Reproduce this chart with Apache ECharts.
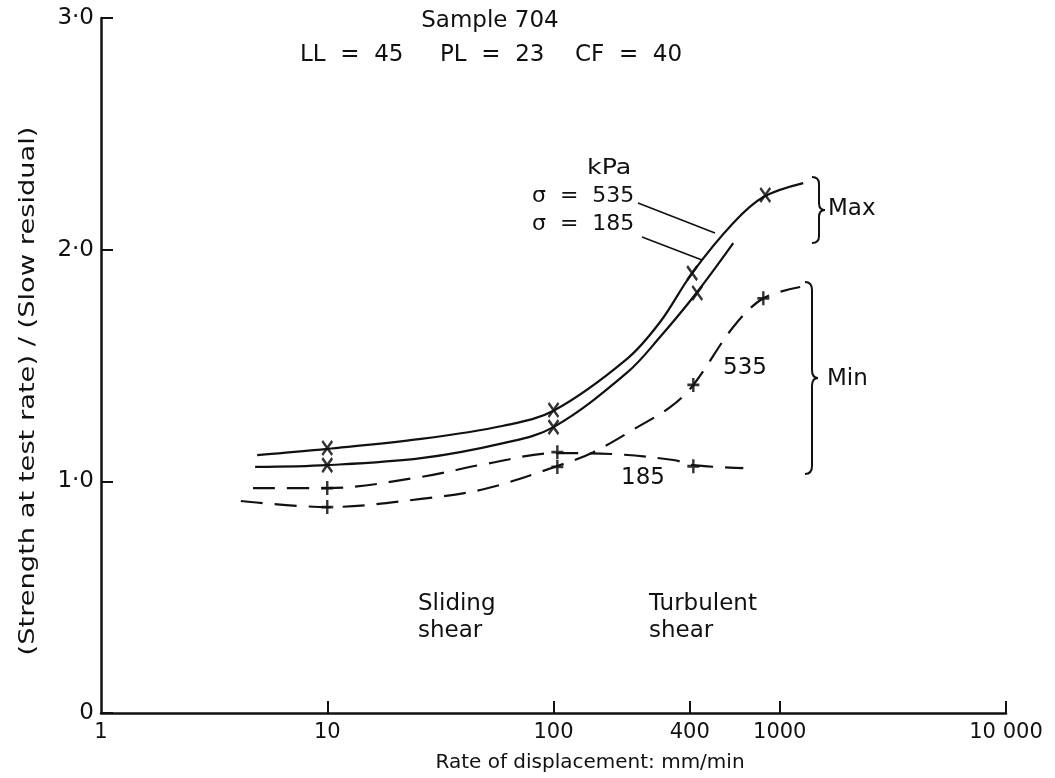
<!DOCTYPE html>
<html><head><meta charset="utf-8">
<script src="https://cdn.jsdelivr.net/npm/echarts@6/dist/echarts.min.js"></script>
<style>html,body{margin:0;padding:0;background:#fff}#c{width:1055px;height:778px}</style>
</head><body><div id="c"></div>
<script>
// Tick values and labels
const xTickValues = [1, 10, 100, 400, 1000, 10000];
const xTickLabels = ['1', '10', '100', '400', '1000', '10 000'];
const yTickValues = [0, 1, 2, 3];
const yTickLabels = ['0', '1·0', '2·0', '3·0'];

// Curves (rate mm/min, strength ratio)
const max535Curve = [[4.9,1.113],[10,1.14],[26,1.183],[60,1.24],[100,1.305],[212,1.53],[297,1.69],[410,1.899],[623,2.115],[846,2.227],[1270,2.287]];
const max185Curve = [[4.8,1.062],[10,1.07],[26,1.10],[60,1.165],[100,1.234],[212,1.47],[297,1.625],[430,1.815],[623,2.028]];
const min185Curve = [[4.7,0.971],[10,0.971],[26,1.019],[50,1.075],[104,1.122],[180,1.118],[339,1.092],[415,1.07],[690,1.057]];
const min535Curve = [[4.15,0.915],[10,0.889],[26,0.924],[50,0.968],[104,1.066],[150,1.126],[235,1.234],[329,1.321],[415,1.416],[623,1.666],[846,1.79],[1231,1.839]];

// Test points (markers)
const max535Points = [[10,1.144],[100,1.308],[410,1.899],[863,2.236]];
const max185Points = [[10,1.07],[100,1.234],[432,1.813]];
const min185Points = [[10,0.971],[104,1.126],[415,1.065]];
const min535Points = [[10,0.889],[104,1.062],[415,1.416],[846,1.79]];

const FONT = '"DejaVu Sans", "Liberation Sans", sans-serif';
const INK = '#111';
const X_SYM = 'path://M0,0L10,14M10,0L0,14';
const PLUS_SYM = 'path://M6,0L6,14M0,7L12,7';

function lineSeries(data, dashed) {
  return {
    type: 'line', data: data, smooth: 0.35,
    showSymbol: false, symbol: 'none', silent: true,
    lineStyle: { color: INK, width: 2.2, type: dashed ? [22, 12] : 'solid' }
  };
}
function markerSeries(data, sym, size) {
  return {
    type: 'scatter', data: data, symbol: sym, symbolSize: size, silent: true,
    itemStyle: { color: 'rgba(0,0,0,0)', borderColor: '#000', borderWidth: 2.6 }
  };
}
function txt(text, x, y, size, align, sx) {
  return { type: 'text', x: x, y: y, scaleX: sx || 1, silent: true,
    style: { text: text, fill: INK, font: size + 'px ' + FONT, textAlign: align || 'left', textVerticalAlign: 'middle' } };
}
function seg(x1, y1, x2, y2, w) {
  return { type: 'line', silent: true, shape: { x1: x1, y1: y1, x2: x2, y2: y2 }, style: { stroke: INK, lineWidth: w || 2 } };
}
function qcurve(x1, y1, cx, cy, x2, y2) {
  return { type: 'bezierCurve', silent: true, shape: { x1: x1, y1: y1, cpx1: cx, cpy1: cy, x2: x2, y2: y2 }, style: { stroke: INK, lineWidth: 2, fill: null } };
}
// right-facing curly brace: top end x0, spine x1, tip x2
function brace(x0, top, x1, mid, x2, bot, r) {
  return [
    qcurve(x0, top, x1, top, x1, top + r),
    seg(x1, top + r, x1, mid - r),
    qcurve(x1, mid - r, x1, mid, x2, mid),
    qcurve(x2, mid, x1, mid, x1, mid + r),
    seg(x1, mid + r, x1, bot - r),
    qcurve(x1, bot - r, x1, bot, x0, bot)
  ];
}

const chart = echarts.init(document.getElementById('c'), null, { renderer: 'canvas' });
chart.setOption({
  animation: false,
  backgroundColor: '#fff',
  grid: { left: 101, right: 49, top: 18, bottom: 65, containLabel: false },
  xAxis: {
    type: 'log', logBase: 10, min: 1, max: 10000,
    axisLine: { show: true, lineStyle: { color: INK, width: 2.5 } },
    axisTick: { show: true, inside: true, length: 12, lineStyle: { color: INK, width: 2 }, customValues: xTickValues.slice(1) },
    minorTick: { show: false },
    splitLine: { show: false },
    axisLabel: {
      color: INK, fontFamily: FONT, fontSize: 21, margin: 9,
      customValues: xTickValues,
      formatter: function (v) { const i = xTickValues.indexOf(Math.round(v)); return i >= 0 ? xTickLabels[i] : ''; }
    }
  },
  yAxis: {
    type: 'value', min: 0, max: 3, interval: 1,
    axisLine: { show: true, lineStyle: { color: INK, width: 2.5 } },
    axisTick: { show: true, inside: true, length: 12, lineStyle: { color: INK, width: 2 } },
    splitLine: { show: false },
    axisLabel: {
      color: INK, fontFamily: FONT, fontSize: 23, margin: 7,
      formatter: function (v) { const i = yTickValues.indexOf(Math.round(v)); return i >= 0 ? yTickLabels[i] : ''; }
    }
  },
  series: [
    lineSeries(max535Curve, false),
    lineSeries(max185Curve, false),
    lineSeries(min185Curve, true),
    lineSeries(min535Curve, true),
    markerSeries(max535Points, X_SYM, [10, 14]),
    markerSeries(max185Points, X_SYM, [10, 14]),
    markerSeries(min185Points, PLUS_SYM, [12, 14]),
    markerSeries(min535Points, PLUS_SYM, [12, 14])
  ],
  graphic: [
    txt('Sample 704', 490, 21, 23, 'center'),
    txt('LL  =  45', 300, 55, 23),
    txt('PL  =  23', 440, 55, 23),
    txt('CF  =  40', 575, 55, 23),
    txt('kPa', 587, 168, 22, 'left', 1.15),
    txt('σ  =  535', 532, 196, 22),
    txt('σ  =  185', 532, 224, 22),
    txt('Max', 828, 209, 23),
    txt('Min', 827, 379, 23),
    txt('535', 723, 368, 23),
    txt('185', 621, 478, 23),
    txt('Sliding', 418, 604, 23),
    txt('shear', 418, 631, 23),
    txt('Turbulent', 649, 604, 23),
    txt('shear', 649, 631, 23),
    txt('Rate of displacement: mm/min', 590, 763, 20, 'center'),
    { type: 'text', x: 28, y: 391, rotation: Math.PI / 2, scaleX: 1.24, silent: true,
      style: { text: '(Strength at test rate) / (Slow residual)', fill: INK, font: '22px ' + FONT, textAlign: 'center', textVerticalAlign: 'middle' } },
    seg(638, 203, 715, 233, 1.6),
    seg(642, 237, 702, 260, 1.6)
  ].concat(brace(812, 177, 819, 210, 825, 243, 7)).concat(brace(805, 282, 812, 378, 818, 474, 8))
});
</script></body></html>
